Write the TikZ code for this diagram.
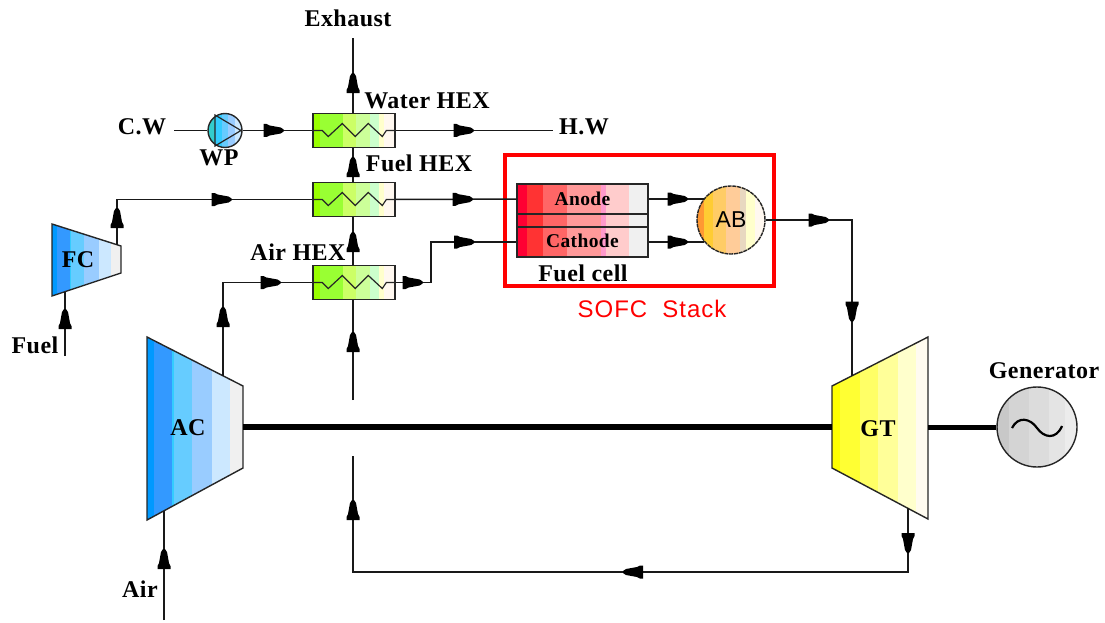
\documentclass[tikz,border=0pt]{standalone}
\usepackage{fontspec}
\setmainfont[LetterSpace=2]{Liberation Serif}
\setsansfont{Liberation Sans}
\usetikzlibrary{
    calc,
    decorations.markings
}
\definecolor{bluea}{HTML}{0099FF}
\definecolor{blueb}{HTML}{3399FF}
\definecolor{bluec}{HTML}{33CCFF}
\definecolor{blued}{HTML}{66CCFF}
\definecolor{bluee}{HTML}{99CCFF}
\definecolor{bluef}{HTML}{CCE8FF}
\definecolor{blueg}{HTML}{F0F0F0}
\definecolor{yella}{HTML}{FFFF00}
\definecolor{yellb}{HTML}{FFFF33}
\definecolor{yellc}{HTML}{FFFF66}
\definecolor{yelld}{HTML}{FFFF99}
\definecolor{yelle}{HTML}{FFFFCC}
\definecolor{yellf}{HTML}{FFFBF0}
\definecolor{greena}{HTML}{99FF00}
\definecolor{greenb}{HTML}{99FF33}
\definecolor{greenc}{HTML}{CCFF66}
\definecolor{greend}{HTML}{CCFF99}
\definecolor{greene}{HTML}{CCFFCC}
\definecolor{greenf}{HTML}{FFFFCC}
\definecolor{greeng}{HTML}{FFF8F0}
\definecolor{reda}{HTML}{FF0033}
\definecolor{redb}{HTML}{FF3333}
\definecolor{redc}{HTML}{FF6666}
\definecolor{redd}{HTML}{FF9999}
\definecolor{rede}{HTML}{FF99CC}
\definecolor{redf}{HTML}{FFCCCC}
\definecolor{redg}{HTML}{F0F0F0}
\definecolor{orana}{HTML}{FF9933}
\definecolor{oranb}{HTML}{FFCC33}
\definecolor{oranc}{HTML}{FFCC66}
\definecolor{orand}{HTML}{FFCC99}
\definecolor{orane}{HTML}{E8D8C0}
\definecolor{oranf}{HTML}{FFFFCC}
\definecolor{orang}{HTML}{FFF8F0}
\definecolor{greya}{HTML}{C8C8C8}
\definecolor{greyb}{HTML}{D4D4D4}
\definecolor{greyc}{HTML}{DCDCDC}
\definecolor{greyd}{HTML}{E4E4E4}
\definecolor{greye}{HTML}{ECECEC}
\definecolor{pumpa}{HTML}{33CCCC}
\definecolor{stackred}{HTML}{FF0000}
\newcommand{\bluelist}{0/bluea,.07/blueb,.26/bluec,.28/blued,.47/bluee,.68/bluef,.86/blueg}
\newcommand{\yellowlist}{0/yella,.08/yellb,.29/yellc,.48/yelld,.69/yelle,.87/yellf}
\newcommand{\greenlist}{0/greena,.09/greenb,.37/greenc,.52/greend,.69/greene,.80/greenf,.86/greeng}
\newcommand{\redlist}{0/reda,.08/redb,.2/redc,.38/redd,.64/rede,.68/redf,.855/redg}
\newcommand{\orangelist}{0/orana,.1/oranb,.23/oranc,.43/orand,.63/orane,.72/oranf,.85/orang}
\newcommand{\greylist}{0/greya,.15/greyb,.4/greyc,.65/greyd,.85/greye}
\newcommand{\pumplist}{0/pumpa,.2/bluec,.4/blued,.6/bluee,.8/bluef}
\newcommand{\flowhead}{\fill[black] (0,-1) -- (-3,-3) -- (-14,-5) -- (-17,-6.5) -- (-20,-6.5)
    -- (-20,6.5) -- (-17,6.5) -- (-14,5) -- (-3,3) -- (0,1) -- cycle;}
\tikzset{
    pipe/.style={line width=1.5pt, black!90},
    shaft/.style={line width=6.5pt, black},
    flow/.style={postaction={decorate, decoration={markings,
        mark=at position #1 with {\flowhead}}}},
    bands/.style={path picture={
        \foreach \a/\col in #1{
            \fill[\col] ($(path picture bounding box.north west)!\a!(path picture bounding box.north east)$)
                rectangle (path picture bounding box.south east);
        }}},
    unit/.style={draw=black!85, line width=1.4pt},
    hexbox/.style={unit, rectangle, minimum width=82pt, minimum height=33.5pt, inner sep=0pt, bands=\greenlist},
    cellbox/.style={unit, rectangle, minimum width=131pt, inner sep=0pt, bands=\redlist, lab, font=\fontsize{19.5}{22}\selectfont\bfseries},
    coil/.style={line width=1.2pt, black!85},
    lab/.style={inner sep=0pt, font=\fontsize{24}{27}\selectfont\bfseries},
    stacklab/.style={inner sep=0pt, font=\fontsize{24}{27}\sffamily\selectfont\addfontfeatures{LetterSpace=4}}
}
\begin{document}
\begin{tikzpicture}[x=1pt, y=-1pt]
    \useasboundingbox (0,0) rectangle (1105,623);
    \foreach \n/\y in {waterhex/130.5,fuelhex/199.5,airhex/282.5}{
        \node[hexbox] (\n) at (354,\y) {};
        \draw[coil] (\n.west) -- ++(10,0) -- ++(6,6) -- ++(14,-13) -- ++(13,13)
            -- ++(13,-13) -- ++(14,13) -- ++(4,-6) -- ++(8,0);
    }
    \node[cellbox, minimum height=30pt] (anode) at (582.5,199) {Anode};
    \node[cellbox, minimum height=13pt] (cellgap) at (582.5,220.5) {};
    \node[cellbox, minimum height=30pt] (cathode) at (582.5,242) {\raisebox{2pt}{Cathode}};
    \node[unit, circle, minimum size=68pt, inner sep=0pt, bands=\orangelist, dash pattern=on 4pt off 0.8pt] (ab) at (731,220)
        {\fontsize{23}{27}\sffamily\selectfont AB};
    \node[unit, circle, minimum size=34pt, inner sep=0pt, bands=\pumplist] (pump) at (225,130.5) {};
    \draw[coil] (215,115) -- (215,146) -- (241,130.5) -- cycle;
    \node[unit, circle, minimum size=80pt, inner sep=0pt, bands=\greylist] (gen) at (1037,427) {};
    \draw[line width=2.2pt] (1012,428) .. controls (1018,416) and (1030,418) .. (1037,428)
        .. controls (1044,438) and (1056,440) .. (1062,426);
    \path[unit, bands=\bluelist] (52,224) -- (121,246) -- (121,273) -- (52,296) -- cycle;
    \path[unit, bands=\bluelist] (147,337) -- (243,386) -- (243,468) -- (147,520) -- cycle;
    \path[unit, bands=\yellowlist] (832,386) -- (928,337) -- (928,519) -- (832,468) -- cycle;
    \draw[stackred, line width=4.5pt] (505,155) rectangle (774,286);
    \node[lab] (exhaust) at (348,18) {Exhaust};
    \node[lab] (waterlab) at (427,101) {Water HEX};
    \node[lab] (fuellab) at (419,163) {Fuel HEX};
    \node[lab] (airlab) at (298,252) {Air HEX};
    \node[lab] (cw) at (142,127) {C.W};
    \node[lab] (wp) at (219,158) {WP};
    \node[lab] (hw) at (584,127) {H.W};
    \node[lab] (fc) at (78,260) {FC};
    \node[lab] (fuel) at (35,345) {Fuel};
    \node[lab] (ac) at (188,428) {AC};
    \node[lab] (air) at (140,589) {Air};
    \node[lab] (gt) at (878,429) {GT};
    \node[lab] (generator) at (1044,371) {Generator};
    \node[lab] (fuelcell) at (583,273) {Fuel cell};
    \node[stacklab, text=stackred] (stack) at (652,309) {SOFC\ \ Stack};
    \coordinate (exhaustend) at (353,38);
    \coordinate (cwstart) at (174,130.5);
    \coordinate (hwend) at (553,130.5);
    \coordinate (fcout) at (117,245);
    \coordinate (fcturn) at (117,199.5);
    \coordinate (fuelstart) at (65,356);
    \coordinate (fcin) at (65,292);
    \coordinate (airstart) at (164,620);
    \coordinate (acin) at (164,511);
    \coordinate (acout) at (223,376);
    \coordinate (acturn) at (223,282.5);
    \coordinate (airturna) at (431,282.5);
    \coordinate (airturnb) at (431,242);
    \coordinate (abturn) at (852,220);
    \coordinate (gtin) at (852,376);
    \coordinate (gtout) at (908,508);
    \coordinate (gtturna) at (908,572);
    \coordinate (gtturnb) at (353,572);
    \coordinate (backup) at (353,456);
    \coordinate (backdown) at (353,400);
    \coordinate (acshaft) at (243,427);
    \coordinate (gtshafta) at (832,427);
    \coordinate (gtshaftb) at (928,427);
    \draw[pipe, flow=40pt] (waterhex.north -| exhaustend) -- (exhaustend);
    \draw[pipe] (cwstart) -- (pump.west);
    \draw[pipe, flow=41pt] (pump.east) -- (waterhex.west);
    \draw[pipe, flow=78pt] (waterhex.east) -- (hwend);
    \draw[pipe, flow=25pt] (fuelhex.north -| exhaustend) -- (waterhex.south -| exhaustend);
    \draw[pipe, flow=33pt] (airhex.north -| exhaustend) -- (fuelhex.south -| exhaustend);
    \draw[pipe, flow=68pt] (backdown) -- (airhex.south -| exhaustend);
    \draw[pipe, flow=37pt, flow=160pt] (fcout) -- (fcturn) -- (fuelhex.west);
    \draw[pipe, flow=47pt] (fuelstart) -- (fcin);
    \draw[pipe, flow=71pt] (airstart) -- (acin);
    \draw[pipe, flow=69pt, flow=151pt] (acout) -- (acturn) -- (airhex.west);
    \draw[pipe, flow=77pt] (fuelhex.east) -- (anode.west);
    \draw[pipe, flow=27pt, flow=119pt] (airhex.east) -- (airturna) -- (airturnb) -- (cathode.west);
    \draw[pipe, flow=39pt] (anode.east) -- (anode.east -| ab.142);
    \draw[pipe, flow=39pt] (cathode.east) -- (cathode.east -| ab.218);
    \draw[pipe, flow=63pt, flow=188pt] (ab.east) -- (abturn) -- (gtin);
    \draw[pipe, flow=45pt, flow=349pt, flow=691pt] (gtout) -- (gtturna) -- (gtturnb) -- (backup);
    \draw[shaft] (acshaft) -- (gtshafta);
    \draw[shaft, line width=5pt] (gtshaftb) -- (gen.west);
\end{tikzpicture}
\end{document}
